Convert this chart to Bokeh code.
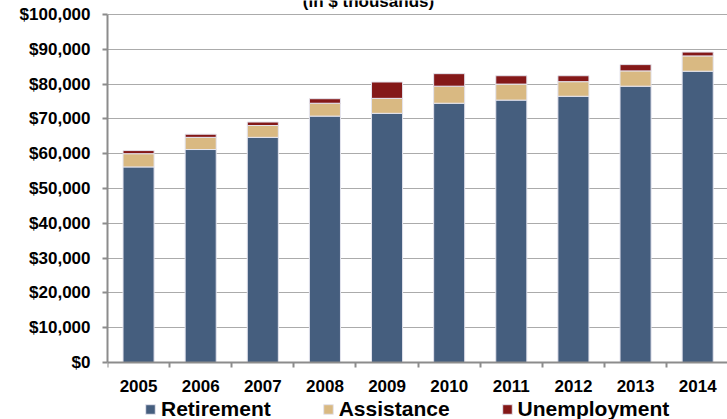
from bokeh.plotting import figure
from bokeh.models import (ColumnDataSource, Range1d, FixedTicker, NumeralTickFormatter,
                          Legend, LegendItem, Label)
from bokeh.embed import file_html
from bokeh.resources import INLINE

years = ["2005", "2006", "2007", "2008", "2009", "2010", "2011", "2012", "2013", "2014"]
retirement = [56200, 61200, 64700, 70800, 71600, 74500, 75400, 76500, 79400, 83700]
assistance = [3800, 3500, 3400, 3700, 4300, 4900, 4600, 4200, 4400, 4400]
unemployment = [900, 900, 1000, 1300, 4700, 3600, 2400, 1700, 1800, 1100]
series = ["Retirement", "Assistance", "Unemployment"]
colors = ["#455E7E", "#D9B982", "#841818"]
y_ticks = list(range(0, 100001, 10000))
subtitle = "(in $ thousands)"

xs = list(range(len(years)))
src = ColumnDataSource(dict(x=xs, Retirement=retirement, Assistance=assistance,
                            Unemployment=unemployment))

FONT = "Liberation Sans"
AXIS = "#8C8C8C"

# frame covers the whole canvas height; the value axis is bounded to 0..100,000
p = figure(width=727, height=419, output_backend="svg", toolbar_location=None, title=None,
           x_range=Range1d(-0.5, 9.48), y_range=Range1d(-16379, 104023),
           min_border_left=107, min_border_right=0, min_border_top=0, min_border_bottom=0)
p.outline_line_color = None
p.background_fill_color = "white"
p.border_fill_color = "white"

renderers = p.vbar_stack(series, x="x", width=0.5, color=colors, source=src,
                         line_color="#E4E4EE", line_width=1)

# axes
p.xgrid.visible = False
p.ygrid.grid_line_color = "#ABABAB"
p.ygrid.grid_line_width = 1
p.ygrid.ticker = FixedTicker(ticks=y_ticks[1:])

ya = p.yaxis[0]
ya.ticker = FixedTicker(ticks=y_ticks)
ya.bounds = (0, 100000)
ya.formatter = NumeralTickFormatter(format="$0,0")
ya.axis_line_color = AXIS
ya.axis_line_width = 2
ya.major_tick_line_color = AXIS
ya.major_tick_line_width = 2
ya.major_tick_out = 5
ya.major_tick_in = 0
ya.minor_tick_line_color = None
ya.major_label_standoff = 12
ya.major_label_text_font = FONT
ya.major_label_text_font_style = "bold"
ya.major_label_text_font_size = "17px"
ya.major_label_text_color = "black"

xa = p.xaxis[0]
xa.fixed_location = 0
xa.ticker = FixedTicker(ticks=xs, minor_ticks=[i - 0.5 for i in range(len(years) + 1)])
xa.major_label_overrides = {i: y for i, y in enumerate(years)}
xa.axis_line_color = AXIS
xa.axis_line_width = 2
xa.major_tick_line_color = None
xa.major_tick_out = 0
xa.major_tick_in = 0
xa.minor_tick_line_color = AXIS
xa.minor_tick_line_width = 2
xa.minor_tick_out = 5
xa.minor_tick_in = 0
xa.major_label_standoff = 12
xa.major_label_text_font = FONT
xa.major_label_text_font_style = "bold"
xa.major_label_text_font_size = "17px"
xa.major_label_text_color = "black"

# legend
items = [LegendItem(label=s, renderers=[r]) for s, r in zip(series, renderers)]
legend = Legend(items=items, orientation="horizontal", location=(37, -2),
                padding=0, margin=0, spacing=51, label_standoff=5,
                glyph_width=12, glyph_height=12,
                border_line_color=None, background_fill_alpha=0,
                label_text_font=FONT, label_text_font_style="bold",
                label_text_font_size="21px", label_text_color="black",
                label_text_baseline="middle")
p.add_layout(legend, "center")

# subtitle, cut off by the top edge as in the source image
p.add_layout(Label(x=261, y=418, x_units="screen", y_units="screen",
                   text=subtitle, text_align="center", text_baseline="alphabetic",
                   text_font=FONT, text_font_style="bold", text_font_size="17px",
                   text_color="black"))

open("out.html", "w").write(file_html(p, INLINE))
